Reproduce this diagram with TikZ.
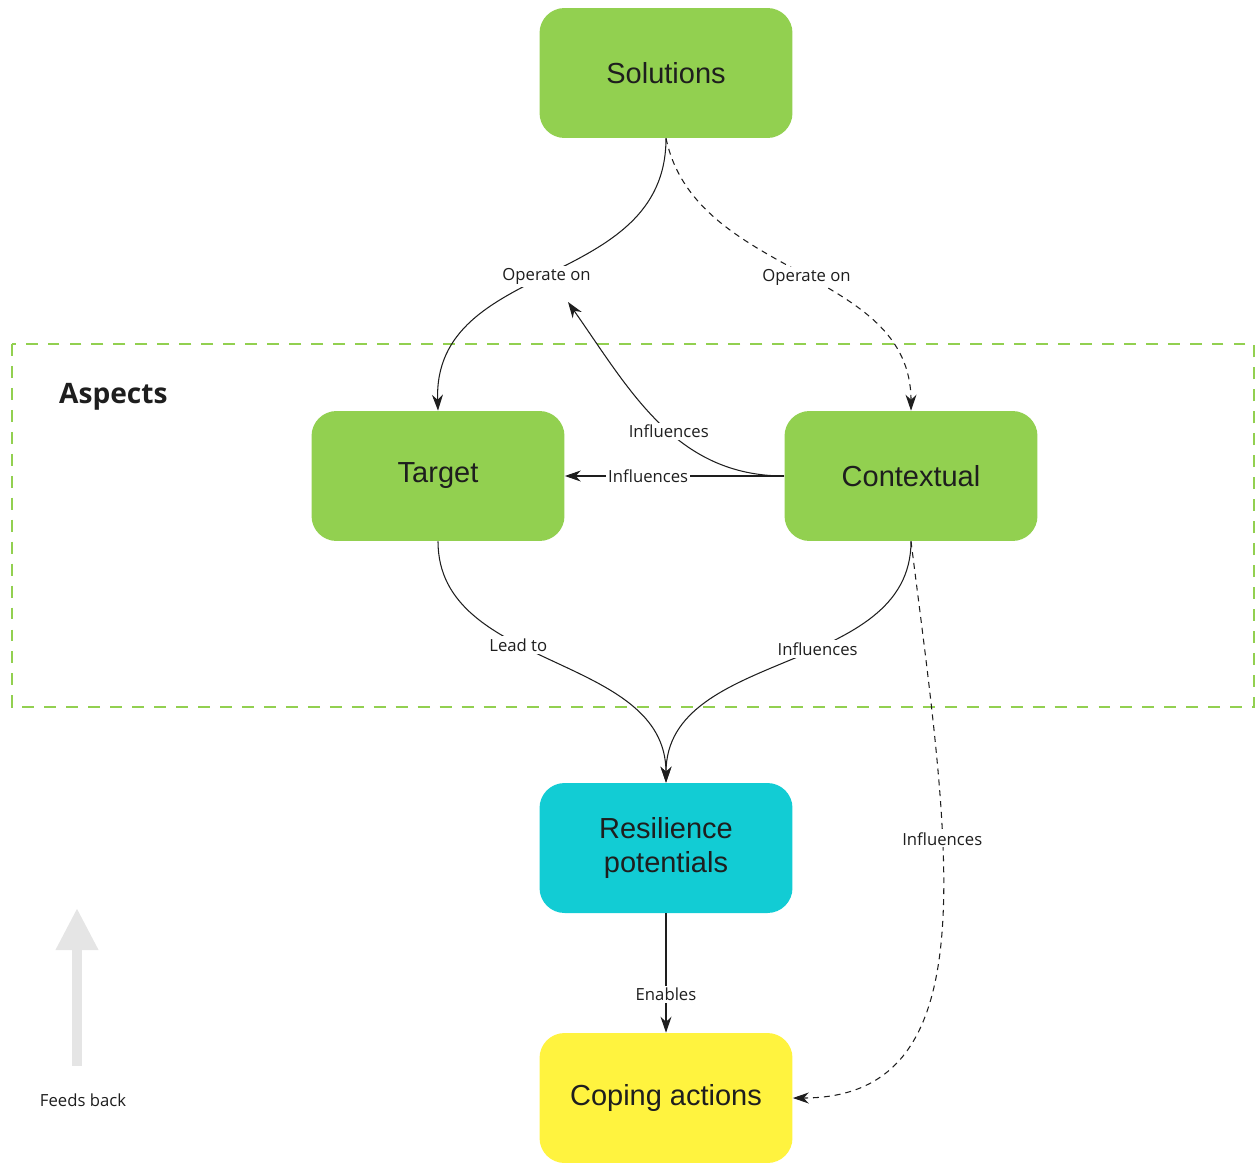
\documentclass[tikz,border=0pt]{standalone}
\usepackage{fontspec}
\setmainfont{Liberation Sans}
\newfontfamily\labelfont{Open Sans}
\usepackage{xcolor}
\usetikzlibrary{arrows.meta, calc}

\definecolor{leafgreen}{HTML}{92D050}
\definecolor{potcyan}{HTML}{12CCD4}
\definecolor{copeyellow}{HTML}{FFF33F}
\definecolor{inkgray}{HTML}{1E1E1E}

\begin{document}
\begin{tikzpicture}[
    x=0.02cm, y=0.02cm,
    box/.style={rectangle, rounded corners=0.5cm, minimum width=5.06cm, minimum height=2.6cm, align=center, fill=leafgreen, text=inkgray, font=\fontsize{16.5}{19}\selectfont},
    cyanbox/.style={box, fill=potcyan},
    yellowbox/.style={box, fill=copeyellow},
    lbl/.style={fill=white, inner sep=1.2pt, text=inkgray, font=\labelfont\fontsize{9.5}{11}\selectfont},
    arrow/.style={->, >={Stealth[length=3.2mm, width=2.2mm]}, line width=0.6pt, draw=inkgray},
    dasharrow/.style={arrow, dash pattern=on 3.4pt off 2.8pt},
    feedback/.style={line width=0.2cm, draw=black!10, -{Triangle[length=0.84cm, width=0.8cm]}}
]
\useasboundingbox (0,0) rectangle (1256,-1162);

% aspects frame
\draw[leafgreen, line width=1.2pt, dash pattern=on 6.8pt off 5.7pt] (12,-344) rectangle (1254,-707);
\node (aspects) [anchor=west, text=inkgray, font=\labelfont\bfseries\fontsize{16}{19}\selectfont] at (53,-397) {Aspects};

\node (sol) [box] at (666,-73) {Solutions};
\node (tgt) [box] at (438,-476) {Target};
\node (ctx) [box] at (911,-476) {Contextual};
\node (res) [cyanbox] at (666,-848) {Resilience\\potentials};
\node (cope) [yellowbox] at (666,-1098) {Coping actions};
\coordinate (infl) at (568,-302);

\draw[arrow] (sol.south) to[out=-90, in=92, looseness=1.1] node[lbl, pos=0.51] (op1) {Operate on} (tgt.north);
\draw[dasharrow] (sol.south) to[out=-78, in=90] node[lbl, pos=0.52] (op2) {Operate on} (ctx.north);
\draw[arrow] (ctx.west) to[out=180, in=-55] node[lbl, pos=0.45] {Influences} (infl);
\draw[arrow] (ctx.west) -- node[lbl, pos=0.62] {Influences} (tgt.east);
\foreach \a/\t/\p in {tgt/Lead to/0.4, ctx/Influences/0.42}
  \draw[arrow] (\a.south) to[out=-90, in=90] node[lbl, pos=\p] {\t} (res.north);
\draw[arrow] (res.south) -- node[lbl, pos=0.68] {Enables} (cope.north);
\draw[dasharrow] (ctx.south) .. controls (950,-850) and (990,-1098) .. node[lbl, pos=0.355] {Influences} (cope.east);

% feeds back
\node (fb) [lbl] at (83,-1100) {Feeds back};
\coordinate (fbtail) at (77,-1066);
\coordinate (fbhead) at (77,-908);
\draw[feedback] (fbtail) -- (fbhead);
\end{tikzpicture}
\end{document}
